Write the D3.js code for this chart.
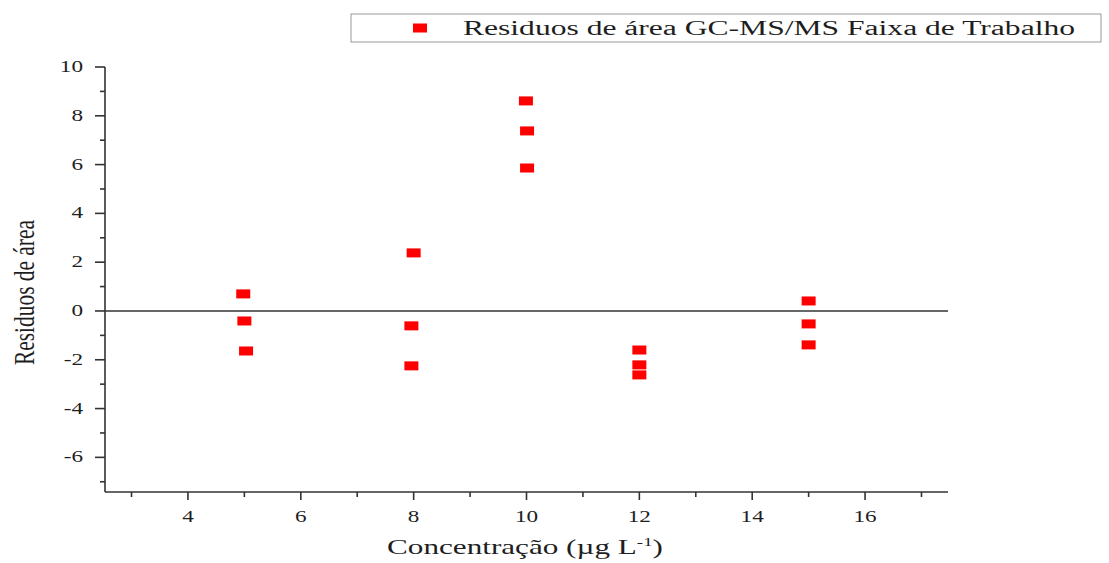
<!DOCTYPE html>
<html lang="en">
<head>
    <meta charset="UTF-8">
    <title>Residuos de área</title>
    <script src="https://d3js.org/d3.v7.min.js"></script>
    <style>
        body { margin: 0; background: #fff; }
        svg text { fill: #1e1e1e; font-family: "Liberation Serif", "DejaVu Serif", serif; }
    </style>
</head>
<body>
    <div id="chart"></div>

    <script>
        // data
        const concentrations = [4.98, 5.0, 5.03, 7.96, 7.96, 8.0, 9.99, 10.01, 10.01, 12.0, 12.0, 12.0, 15.0, 15.0, 15.0];
        const residuals = [0.70, -0.41, -1.64, -0.61, -2.25, 2.38, 8.61, 7.38, 5.86, -1.60, -2.21, -2.62, 0.41, -0.53, -1.39];
        const xTicks = [4, 6, 8, 10, 12, 14, 16];
        const yTicks = [-6, -4, -2, 0, 2, 4, 6, 8, 10];
        const legendLabel = "Residuos de área GC-MS/MS Faixa de Trabalho";

        const width = 1109, height = 563;
        const plotLeft = 105, plotRight = 948, plotTop = 67, plotBottom = 492;
        const stretch = 1.45; // the original image is stretched sideways

        const svg = d3.select("#chart").append("svg")
            .attr("width", width)
            .attr("height", height);

        const x = d3.scaleLinear().domain([2.53, 17.47]).range([plotLeft, plotRight]);
        const y = d3.scaleLinear().domain([-7.42, 10]).range([plotBottom, plotTop]);

        const points = concentrations.map((c, i) => ({ x: c, y: residuals[i] }));

        // zero line
        svg.append("line")
            .attr("x1", plotLeft).attr("x2", plotRight)
            .attr("y1", y(0)).attr("y2", y(0))
            .attr("stroke", "#333").attr("stroke-width", 1.6);

        // minor ticks
        const xMinor = d3.range(3, 18, 2);
        const yMinor = d3.range(-7, 10, 2);

        const xAxis = svg.append("g").attr("transform", `translate(0,${plotBottom})`);
        xAxis.append("line").attr("x1", plotLeft).attr("x2", plotRight)
            .attr("stroke", "#333").attr("stroke-width", 1.6);
        xAxis.selectAll(".major").data(xTicks).enter().append("line")
            .attr("x1", d => x(d)).attr("x2", d => x(d))
            .attr("y1", 0).attr("y2", 8)
            .attr("stroke", "#333").attr("stroke-width", 1.6);
        xAxis.selectAll(".minor").data(xMinor).enter().append("line")
            .attr("x1", d => x(d)).attr("x2", d => x(d))
            .attr("y1", 0).attr("y2", 5)
            .attr("stroke", "#333").attr("stroke-width", 1.6);
        xAxis.selectAll("text").data(xTicks).enter().append("text")
            .attr("transform", d => `translate(${x(d)},30) scale(${stretch},1)`)
            .attr("text-anchor", "middle")
            .style("font-size", "16px")
            .text(d => d);

        const yAxis = svg.append("g").attr("transform", `translate(${plotLeft},0)`);
        yAxis.append("line").attr("y1", plotTop).attr("y2", plotBottom)
            .attr("stroke", "#333").attr("stroke-width", 1.6);
        yAxis.selectAll(".major").data(yTicks).enter().append("line")
            .attr("y1", d => y(d)).attr("y2", d => y(d))
            .attr("x1", 0).attr("x2", -10)
            .attr("stroke", "#333").attr("stroke-width", 1.6);
        yAxis.selectAll(".minor").data(yMinor).enter().append("line")
            .attr("y1", d => y(d)).attr("y2", d => y(d))
            .attr("x1", 0).attr("x2", -5)
            .attr("stroke", "#333").attr("stroke-width", 1.6);
        yAxis.selectAll("text").data(yTicks).enter().append("text")
            .attr("transform", d => `translate(-22,${y(d) + 5}) scale(${stretch},1)`)
            .attr("text-anchor", "end")
            .style("font-size", "16px")
            .text(d => d);

        // axis titles
        svg.append("text")
            .attr("transform", `translate(34,${(plotTop + plotBottom) / 2 + 13}) rotate(-90) scale(1,${stretch})`)
            .attr("text-anchor", "middle")
            .attr("textLength", 145)
            .attr("lengthAdjust", "spacingAndGlyphs")
            .style("font-size", "20px")
            .text("Residuos de área");

        const xt = svg.append("text")
            .attr("transform", `translate(525,554) scale(${stretch},1)`)
            .attr("text-anchor", "middle")
            .style("font-size", "21.5px");
        xt.append("tspan").text("Concentração (µg L");
        xt.append("tspan").attr("dy", -8).style("font-size", "13px").text("-1");
        xt.append("tspan").attr("dy", 8).text(")");

        // points
        svg.selectAll(".pt").data(points).enter().append("rect")
            .attr("x", d => x(d.x) - 7)
            .attr("y", d => y(d.y) - 4.5)
            .attr("width", 14).attr("height", 9)
            .attr("fill", "#ff0000");

        // legend
        const lg = svg.append("g");
        lg.append("rect")
            .attr("x", 351).attr("y", 14).attr("width", 750).attr("height", 28)
            .attr("fill", "#fff").attr("stroke", "#999").attr("stroke-width", 1);
        lg.append("rect")
            .attr("x", 413).attr("y", 23.5).attr("width", 14).attr("height", 9)
            .attr("fill", "#ff0000");
        lg.append("text")
            .attr("x", 463).attr("y", 35)
            .attr("textLength", 612)
            .attr("lengthAdjust", "spacingAndGlyphs")
            .style("font-size", "20px")
            .text(legendLabel);
    </script>
</body>
</html>
